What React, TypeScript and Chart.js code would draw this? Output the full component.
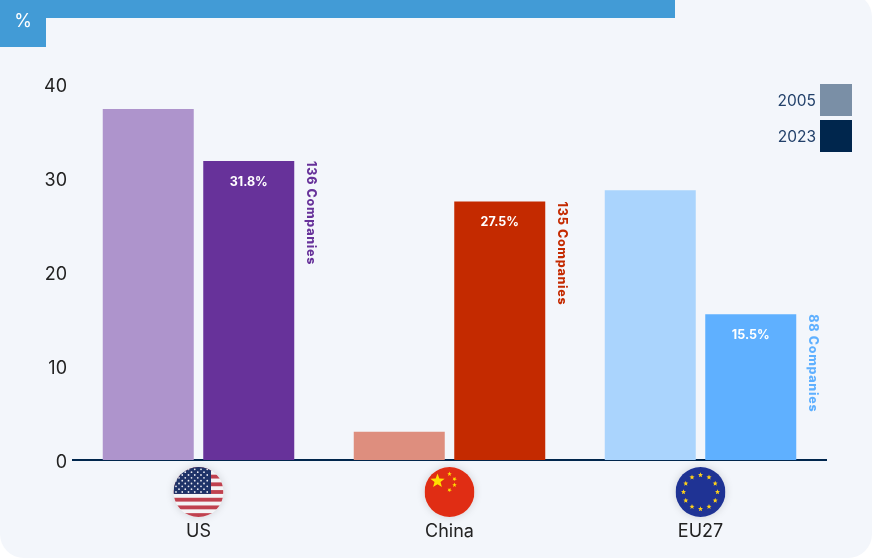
import React, { useEffect, useRef } from "react";
import { Chart, registerables } from "chart.js";

Chart.register(...registerables);

const categories = ["US", "China", "EU27"];
const years = ["2005", "2023"];
const values2005 = [37.35, 3.0, 28.7];
const values2023 = [31.8, 27.5, 15.5];
const colors2005 = ["#ae94cc", "#de8e7e", "#aad4fd"];
const colors2023 = ["#67329a", "#c42a00", "#5fb0ff"];
const legendColors = ["#7a8fa6", "#00264d"];
const companyLabels = ["136 Companies", "135 Companies", "88 Companies"];
const yTicks = [0, 10, 20, 30, 40];
const FONT = "Inter, 'Noto Sans', sans-serif";

function star(ctx: CanvasRenderingContext2D, x: number, y: number, r: number, rot = -Math.PI / 2) {
  ctx.beginPath();
  for (let i = 0; i < 10; i++) {
    const a = rot + (i * Math.PI) / 5;
    const rr = i % 2 === 0 ? r : r * 0.42;
    ctx.lineTo(x + Math.cos(a) * rr, y + Math.sin(a) * rr);
  }
  ctx.closePath();
  ctx.fill();
}

function flagUS(ctx: CanvasRenderingContext2D, x: number, y: number, r: number) {
  const left = x - r;
  const top = y - r;
  ctx.fillStyle = "#f4f4f6";
  ctx.fillRect(left, top, 2 * r, 2 * r);
  ctx.fillStyle = "#c0414f";
  const h = (2 * r) / 13;
  for (let i = 0; i < 13; i += 2) ctx.fillRect(left, top + i * h, 2 * r, h);
  ctx.fillStyle = "#1f3368";
  ctx.fillRect(left, top, r * 1.5, h * 7);
  ctx.fillStyle = "#e8e8f0";
  for (let row = 0; row < 9; row++) {
    const n = row % 2 === 0 ? 6 : 5;
    const ox = row % 2 === 0 ? 0.1 : 0.22;
    for (let c = 0; c < n; c++) {
      ctx.beginPath();
      ctx.arc(left + r * (ox + c * 0.25), top + h * 0.6 + (row * h * 5.9) / 8, 0.9, 0, Math.PI * 2);
      ctx.fill();
    }
  }
}

function flagCN(ctx: CanvasRenderingContext2D, x: number, y: number, r: number) {
  ctx.fillStyle = "#e02d14";
  ctx.fillRect(x - r, y - r, 2 * r, 2 * r);
  ctx.fillStyle = "#ffe000";
  star(ctx, x - 12, y - 11, 7.5);
  star(ctx, x + 0, y - 18, 2.4, -0.3);
  star(ctx, x + 5, y - 13, 2.4, 0.1);
  star(ctx, x + 5, y - 7, 2.4, -0.3);
  star(ctx, x + 0, y - 2, 2.4, 0.1);
}

function flagEU(ctx: CanvasRenderingContext2D, x: number, y: number, r: number) {
  ctx.fillStyle = "#1f3394";
  ctx.fillRect(x - r, y - r, 2 * r, 2 * r);
  ctx.fillStyle = "#ffd21a";
  for (let i = 0; i < 12; i++) {
    const a = (i * Math.PI) / 6;
    star(ctx, x + Math.sin(a) * 17, y - Math.cos(a) * 17, 2.7);
  }
}

const flagDrawers = [flagUS, flagCN, flagEU];

const decorations = {
  id: "decorations",
  beforeDraw(chart: any) {
    const ctx: CanvasRenderingContext2D = chart.ctx;
    ctx.save();
    ctx.fillStyle = "#ffffff";
    ctx.fillRect(0, 0, chart.width, chart.height);
    ctx.fillStyle = "#f3f6fb";
    ctx.beginPath();
    ctx.roundRect(0, -7, chart.width, chart.height + 7, 24);
    ctx.fill();
    ctx.fillStyle = "#429bd6";
    ctx.fillRect(0, 0, 675, 18);
    ctx.fillRect(0, 0, 46, 47);
    ctx.fillStyle = "#ffffff";
    ctx.font = `18px ${FONT}`;
    ctx.textAlign = "center";
    ctx.textBaseline = "middle";
    ctx.fillText("%", 23, 22);
    ctx.restore();
  },
  afterDatasetsDraw(chart: any) {
    const ctx: CanvasRenderingContext2D = chart.ctx;
    const meta2023 = chart.getDatasetMeta(1);
    ctx.save();
    meta2023.data.forEach((bar: any, i: number) => {
      ctx.fillStyle = "#ffffff";
      ctx.font = `700 12.5px ${FONT}`;
      ctx.textAlign = "center";
      ctx.textBaseline = "middle";
      ctx.fillText(values2023[i].toFixed(1) + "%", bar.x, bar.y + 21);

      ctx.save();
      ctx.translate(bar.x + 45.5 + 17, bar.y);
      ctx.rotate(Math.PI / 2);
      ctx.fillStyle = colors2023[i];
      ctx.font = `800 12.5px ${FONT}`;
      (ctx as any).letterSpacing = "0.7px";
      ctx.textAlign = "left";
      ctx.textBaseline = "middle";
      ctx.fillText(companyLabels[i], 0, 0);
      ctx.restore();
    });

    // flags, centred on the category positions
    const xs = chart.scales.x;
    categories.forEach((_, i) => {
      const x = xs.getPixelForValue(i);
      const y = 492;
      const r = 25;
      ctx.save();
      ctx.shadowColor = "rgba(0,0,0,0.15)";
      ctx.shadowBlur = 8;
      ctx.fillStyle = "#ffffff";
      ctx.beginPath();
      ctx.arc(x, y, r, 0, Math.PI * 2);
      ctx.fill();
      ctx.restore();
      ctx.save();
      ctx.beginPath();
      ctx.arc(x, y, r, 0, Math.PI * 2);
      ctx.clip();
      flagDrawers[i](ctx, x, y, r);
      ctx.restore();
    });

    // legend
    years.forEach((year, i) => {
      const top = 84 + i * 36;
      ctx.fillStyle = legendColors[i];
      ctx.fillRect(820, top, 32, 32);
      ctx.fillStyle = "#22406a";
      ctx.font = `15.5px ${FONT}`;
      ctx.textAlign = "right";
      ctx.textBaseline = "middle";
      ctx.fillText(year, 816, top + 17);
    });
    ctx.restore();
  },
};

export default function App() {
  const ref = useRef<HTMLCanvasElement>(null);
  useEffect(() => {
    const chart = new Chart(ref.current!, {
      type: "bar",
      data: {
        labels: categories,
        datasets: [
          { label: years[0], data: values2005, backgroundColor: colors2005 },
          { label: years[1], data: values2023, backgroundColor: colors2023 },
        ],
      },
      options: {
        animation: false,
        responsive: false,
        layout: { padding: { top: 84, right: 46, left: 0, bottom: 0 } },
        datasets: { bar: { categoryPercentage: 201 / 251, barPercentage: 91 / 100.5 } },
        plugins: { legend: { display: false }, tooltip: { enabled: false }, title: { display: false } },
        scales: {
          x: {
            grid: { display: false, drawTicks: false },
            border: { color: "#00264d", width: 2 },
            ticks: { color: "#222222", font: { family: FONT, size: 18 }, padding: 61 },
            afterFit: (s: any) => { s.height = 98; },
          },
          y: {
            min: 0,
            max: 40,
            afterBuildTicks: (s: any) => { s.ticks = yTicks.map((value) => ({ value })); },
            grid: { display: false, drawTicks: false },
            border: { display: false },
            ticks: { color: "#222222", font: { family: FONT, size: 18 }, padding: 6, labelOffset: 3 },
            afterFit: (s: any) => { s.width = 73; },
          },
        },
      },
      plugins: [decorations],
    });
    return () => chart.destroy();
  }, []);
  return (
    <div style={{ position: "absolute", left: 0, top: 0, width: 872, height: 558 }}>
      <canvas ref={ref} width={872} height={558} style={{ display: "block" }} />
    </div>
  );
}
